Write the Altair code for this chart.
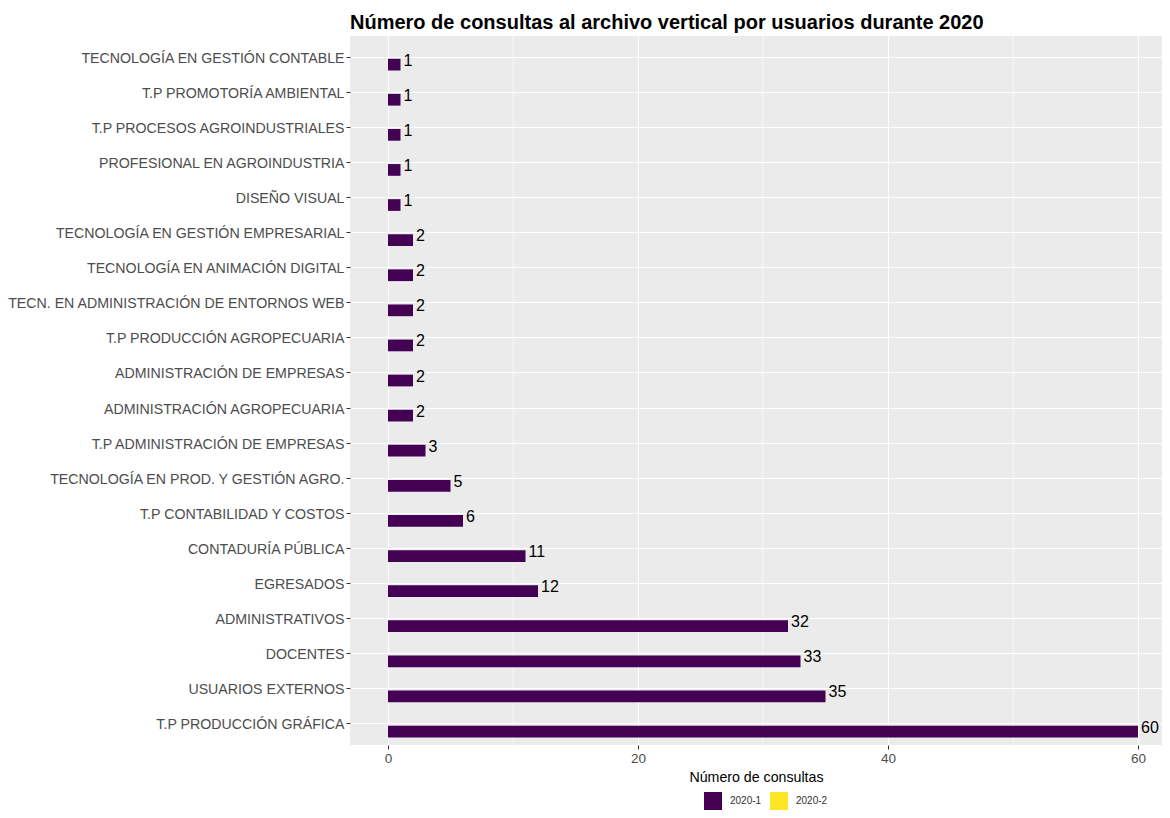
import altair as alt
import pandas as pd

categories = [
    "TECNOLOGÍA EN GESTIÓN CONTABLE",
    "T.P PROMOTORÍA AMBIENTAL",
    "T.P PROCESOS AGROINDUSTRIALES",
    "PROFESIONAL EN AGROINDUSTRIA",
    "DISEÑO VISUAL",
    "TECNOLOGÍA EN GESTIÓN EMPRESARIAL",
    "TECNOLOGÍA EN ANIMACIÓN DIGITAL",
    "TECN. EN ADMINISTRACIÓN DE ENTORNOS WEB",
    "T.P PRODUCCIÓN AGROPECUARIA",
    "ADMINISTRACIÓN DE EMPRESAS",
    "ADMINISTRACIÓN AGROPECUARIA",
    "T.P ADMINISTRACIÓN DE EMPRESAS",
    "TECNOLOGÍA EN PROD. Y GESTIÓN AGRO.",
    "T.P CONTABILIDAD Y COSTOS",
    "CONTADURÍA PÚBLICA",
    "EGRESADOS",
    "ADMINISTRATIVOS",
    "DOCENTES",
    "USUARIOS EXTERNOS",
    "T.P PRODUCCIÓN GRÁFICA",
]
values_2020_1 = [1, 1, 1, 1, 1, 2, 2, 2, 2, 2, 2, 3, 5, 6, 11, 12, 32, 33, 35, 60]
series = ["2020-1", "2020-2"]
series_colors = ["#440154", "#FDE725"]
x_ticks = [0, 20, 40, 60]
x_minor = [10, 30, 50]

df = pd.DataFrame({"cat": categories, "val": values_2020_1, "serie": "2020-1"})
minor_df = pd.DataFrame({"m": x_minor})

FONT = "Liberation Sans"
x_scale = alt.Scale(domain=[-3.04, 61.92], nice=False, zero=False)
y_enc = alt.Y(
    "cat:N",
    sort=categories,
    scale=alt.Scale(paddingInner=0, paddingOuter=0.1),
    axis=alt.Axis(
        title=None, bandPosition=0.5, labelFontSize=14.2, labelColor="#4D4D4D",
        tickColor="#333333", tickSize=4, labelPadding=2, domain=False,
        grid=True, gridColor="white", gridWidth=1.1, labelFont=FONT,
        labelLimit=0, labelOffset=1.5,
    ),
)
yoff = alt.YOffset(
    "serie:N",
    scale=alt.Scale(domain=["2020-2", "2020-1"], paddingInner=0, paddingOuter=0.496, align=0.647),
)

minor = alt.Chart(minor_df).mark_rule(color="white", strokeWidth=0.6).encode(
    x=alt.X("m:Q", scale=x_scale)
)

bars = alt.Chart(df).mark_bar().encode(
    x=alt.X(
        "val:Q",
        scale=x_scale,
        axis=alt.Axis(
            values=x_ticks, title="Número de consultas", titleFontSize=14.2,
            titleFontWeight="normal", titleColor="black", titlePadding=6,
            labelFontSize=13.5, labelColor="#4D4D4D", tickColor="#333333",
            tickSize=4, labelPadding=2, domain=False, grid=True,
            gridColor="white", gridWidth=1.1, labelFont=FONT, titleFont=FONT,
        ),
    ),
    y=y_enc,
    yOffset=yoff,
    color=alt.Color(
        "serie:N",
        scale=alt.Scale(domain=series, range=series_colors),
        legend=alt.Legend(
            title=None, orient="none", legendX=354, legendY=756,
            direction="horizontal", symbolType="square", symbolSize=324,
            symbolStrokeWidth=0, labelFontSize=10, labelColor="#333333",
            labelFont=FONT, columnPadding=8, labelOffset=8,
        ),
    ),
)

labels = alt.Chart(df).mark_text(
    align="left", baseline="middle", dx=3, dy=-4, fontSize=16, color="black", font=FONT
).encode(
    x=alt.X("val:Q", scale=x_scale),
    y=y_enc,
    yOffset=yoff,
    text=alt.Text("val:Q"),
)

chart = (
    alt.layer(minor, bars, labels)
    .properties(
        width=812,
        height=709,
        title=alt.TitleParams(
            "Número de consultas al archivo vertical por usuarios durante 2020",
            fontSize=20, fontWeight="bold", color="black", font=FONT,
            anchor="start", frame="group", offset=3,
        ),
        autosize=alt.AutoSizeParams(type="none"),
        padding={"left": 342, "top": 28, "right": 0, "bottom": 65},
    )
    .configure_view(fill="#EBEBEB", stroke=None)
)

chart.save("out.html", embed_options={"renderer": "svg", "actions": False})
